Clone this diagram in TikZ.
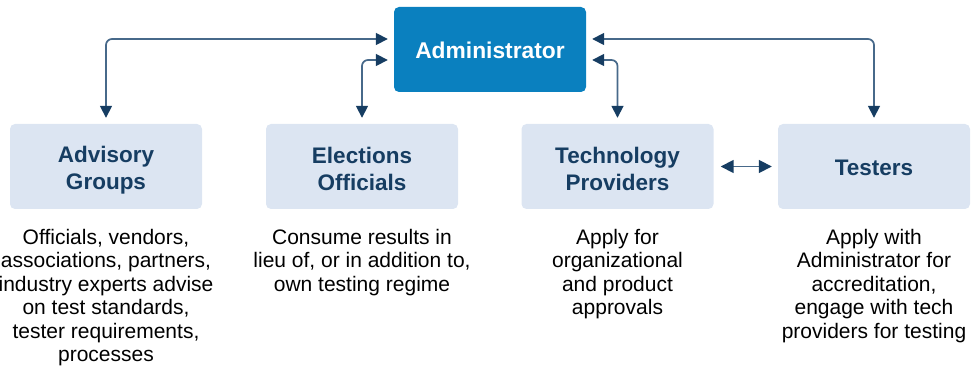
\documentclass[tikz,border=0pt]{standalone}
\usepackage{fontspec}
\setmainfont{Liberation Sans}
\usetikzlibrary{arrows.meta,positioning}
\definecolor{adminblue}{HTML}{0A80BF}
\definecolor{paleblue}{HTML}{DCE5F2}
\definecolor{navy}{HTML}{163D62}
\definecolor{linkc}{HTML}{47698A}
\begin{document}
\begin{tikzpicture}[x=1pt,y=-1pt,
  rolebox/.style={rectangle,rounded corners=5pt,minimum width=192pt,minimum height=85pt,
    inner sep=0pt,fill=paleblue,draw=none},
  headbox/.style={rolebox,fill=adminblue},
  roletitle/.style={inner sep=0pt,align=center,text=navy,
    font=\fontsize{22.5}{27}\selectfont\bfseries},
  headtitle/.style={roletitle,text=white,font=\fontsize{22.8}{27}\selectfont\bfseries},
  note/.style={anchor=north,inner sep=0pt,align=center,text=black,
    font=\fontsize{21}{23.5}\selectfont},
  link/.style={draw=linkc,line width=1.7pt,rounded corners=6pt,
    {Triangle[length=12pt,width=12pt,color=navy]}-{Triangle[length=12pt,width=12pt,color=navy]}},
  straightlink/.style={draw=linkc,line width=1.7pt,
    {Triangle[length=13pt,width=13pt,color=navy]}-{Triangle[length=13pt,width=13pt,color=navy]}}]
\useasboundingbox (0,0) rectangle (978,371);

% boxes
\node[headbox] (admin) at (490,49.5) {};
\node[rolebox] (adv)  at (106,166.5)   {};
\node[rolebox] (elec) at (362,166.5)   {};
\node[rolebox] (tech) at (617.5,166.5) {};
\node[rolebox] (test) at (874,166.5)   {};

% box titles
\node[headtitle] (admintitle) at ([yshift=-1pt]admin.center) {Administrator};
\node[roletitle] (advtitle)  at ([yshift=-4pt]adv.center)  {Advisory\\Groups};
\node[roletitle] (electitle) at ([yshift=-2pt]elec.center) {Elections\\Officials};
\node[roletitle] (techtitle) at ([yshift=-2pt]tech.center) {Technology\\Providers};
\node[roletitle] (testtitle) at ([yshift=-1pt]test.center) {Testers};

% descriptions
\node[note] (advnote)  at (106,229)   {Officials, vendors,\\associations, partners,\\industry experts advise\\on test standards,\\tester requirements,\\processes};
\node[note] (elecnote) at (362,229)   {Consume results in\\lieu of, or in addition to,\\own testing regime};
\node[note] (technote) at (617.5,229) {Apply for\\organizational\\and product\\approvals};
\node[note] (testnote) at (874,229)   {Apply with\\Administrator for\\accreditation,\\engage with tech\\providers for testing};

% connectors
\path[link] ([xshift=-6pt,yshift=10.5pt]admin.west) -| ([yshift=6pt]adv.north);
\path[link] ([xshift=-6pt,yshift=-10.5pt]admin.west) -| ([yshift=6pt]elec.north);
\path[link] ([xshift=6pt,yshift=-10.5pt]admin.east) -| ([yshift=6pt]tech.north);
\path[link] ([xshift=6pt,yshift=10.5pt]admin.east) -| ([yshift=6pt]test.north);
\path[straightlink] ([xshift=7pt]tech.east) -- ([xshift=-6pt]test.west);
\end{tikzpicture}
\end{document}
